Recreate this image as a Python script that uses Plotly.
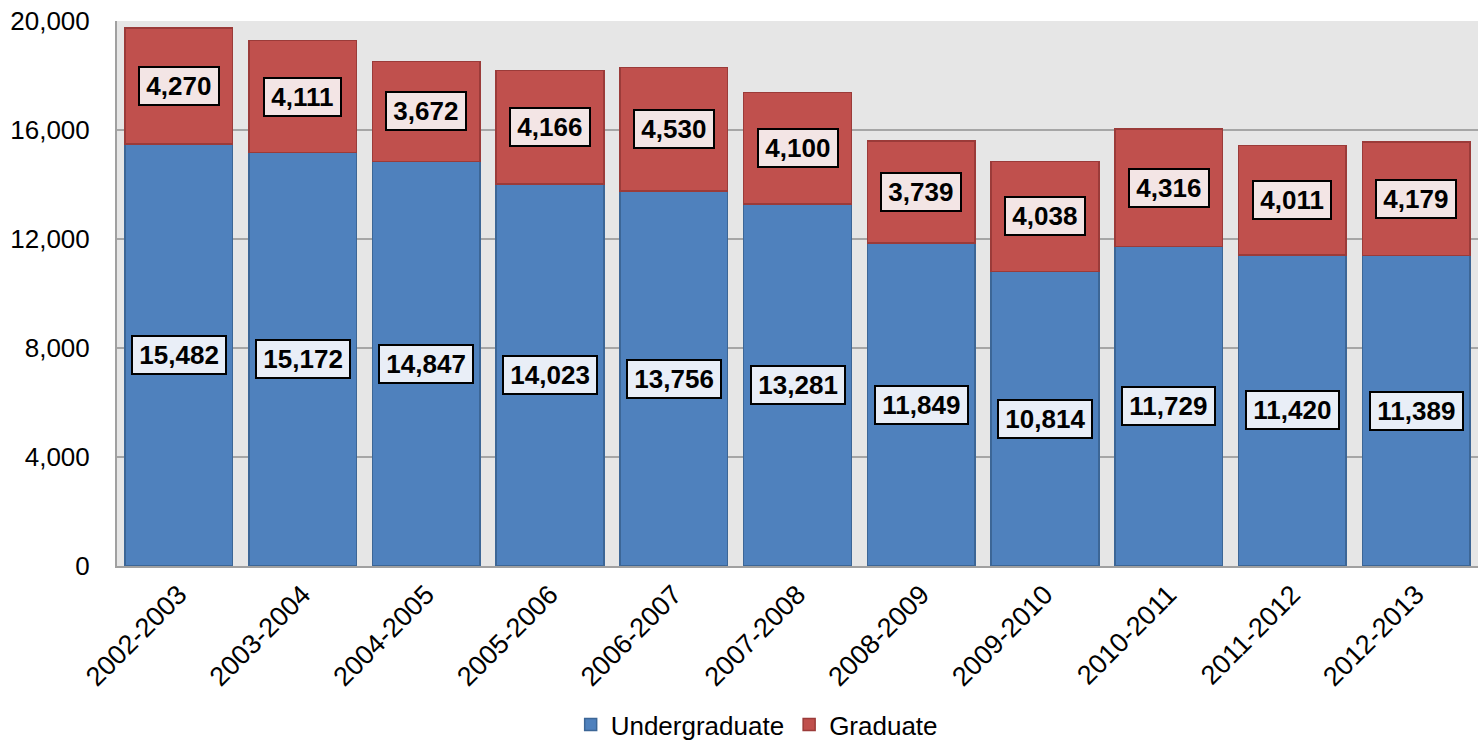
import plotly.graph_objects as go

years = ["2002-2003", "2003-2004", "2004-2005", "2005-2006", "2006-2007", "2007-2008",
         "2008-2009", "2009-2010", "2010-2011", "2011-2012", "2012-2013"]
undergraduate = [15482, 15172, 14847, 14023, 13756, 13281, 11849, 10814, 11729, 11420, 11389]
graduate = [4270, 4111, 3672, 4166, 4530, 4100, 3739, 4038, 4316, 4011, 4179]
y_ticks = [0, 4000, 8000, 12000, 16000, 20000]

FONT = "Liberation Sans, Arial, sans-serif"
BLUE = "#4F81BD"
RED = "#C0504D"
SP = "<span style='font-size:12px'>&nbsp;</span>"

fig = go.Figure()
fig.add_trace(go.Bar(name="Undergraduate", x=years, y=undergraduate,
                     marker=dict(color=BLUE, line=dict(color="#3C6696", width=1.5))))
fig.add_trace(go.Bar(name="Graduate", x=years, y=graduate,
                     marker=dict(color=RED, line=dict(color="#9B3B39", width=1.5))))

annotations = []
for yr, u, g in zip(years, undergraduate, graduate):
    annotations.append(dict(x=yr, y=u / 2, xref="x", yref="y", text=f"{SP}<b>{u:,}</b>{SP}",
                            showarrow=False, font=dict(family=FONT, size=26, color="black"),
                            bgcolor="#E9EEF7", bordercolor="black", borderwidth=2, borderpad=3))
    annotations.append(dict(x=yr, y=u + g / 2, xref="x", yref="y", text=f"{SP}<b>{g:,}</b>{SP}",
                            showarrow=False, font=dict(family=FONT, size=26, color="black"),
                            bgcolor="#F3E5E5", bordercolor="black", borderwidth=2, borderpad=3))

H = 748
TOP = 21
BOTTOM_PX = 566
dom_bottom = (H - BOTTOM_PX) / (H - TOP)

fig.update_layout(
    barmode="stack",
    bargap=0.13,
    width=1484, height=H,
    margin=dict(l=117, r=6, t=TOP, b=0),
    paper_bgcolor="white",
    plot_bgcolor="#E6E6E6",
    font=dict(family=FONT, size=26, color="black"),
    annotations=annotations,
    legend=dict(orientation="h", x=0.47, xanchor="center", y=0, yanchor="bottom",
                font=dict(family=FONT, size=26), traceorder="normal"),
    xaxis=dict(tickangle=-45, tickfont=dict(family=FONT, size=27), showline=True,
               linecolor="#A0A0A0", linewidth=2, ticks="", automargin=False),
    yaxis=dict(domain=[dom_bottom, 1], range=[0, 20000], tickvals=y_ticks, tickformat=",",
               showgrid=True, gridcolor="#A6A6A6", gridwidth=1.5, showline=True,
               linecolor="#A0A0A0", linewidth=2, tickfont=dict(family=FONT, size=26),
               ticks="", zeroline=False, automargin=False, ticklabelstandoff=20),
)

fig.write_html("out.html", config={"displayModeBar": False},
               post_script="document.body.style.margin='0';document.body.style.overflow='hidden';")
